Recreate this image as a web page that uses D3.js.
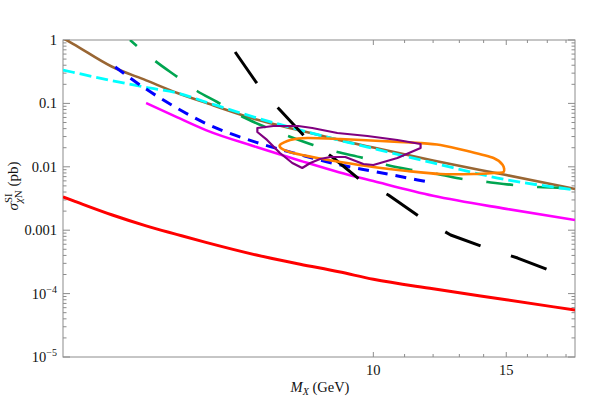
<!DOCTYPE html>
<html>
<head>
<meta charset="utf-8" />
<title></title>
<style>
  body { margin: 0; background: #fff; }
  text { font-family: "Liberation Serif", "DejaVu Serif", serif; fill: #111; }
</style>
</head>
<body>
<div id="chart"></div>
<script src="https://cdn.jsdelivr.net/npm/d3@7/dist/d3.min.js"></script>
<script>
// curves: [mass GeV, sigma pb]
var brownCurve = [[3.88,1.07],[4,0.871],[4.5,0.382],[5,0.231],[5.5,0.146],[6,0.102],[7,0.0557],[8,0.0374],[9,0.0266],[10,0.0201],[12,0.01257],[15,0.0074],[18.5,0.00447]];
var cyanCurve = [[3.88,0.336],[4,0.31],[4.5,0.229],[5,0.179],[5.5,0.146],[6,0.105],[7,0.0593],[8,0.038],[9,0.0264],[10,0.0194],[12,0.0115],[15,0.00626],[18.5,0.00433]];
var blueCurve = [[4.55,0.375],[5,0.168],[5.5,0.0837],[6,0.0482],[7,0.0243],[8,0.0155],[9,0.01083],[10,0.00849],[11.83,0.00576]];
var magentaCurve = [[5,0.1015],[5.5,0.0601],[6,0.0379],[7,0.0205],[8,0.01248],[9,0.00822],[10,0.00595],[12,0.00349],[15,0.00217],[18.5,0.00145]];
var redCurve = [[3.88,0.00334],[4,0.00292],[4.5,0.00175],[5,0.00117],[5.5,0.000853],[6,0.000643],[7,0.000406],[8,0.000291],[9,0.000221],[10,0.000168],[12,0.000119],[15,0.00008],[18.5,0.000055]];
var blackCurve = [[6.56,0.647],[6.99,0.2176],[7.48,0.0846],[8.12,0.0295],[8.82,0.01427],[9.61,0.00619],[10.47,0.00359],[11.58,0.001557],[12.66,0.000839],[14.12,0.000524],[15.53,0.000364],[17.34,0.000219]];
var greenCurve = [[4.76,1.0],[5.14,0.4664],[5.5,0.2609],[5.84,0.1569],[6.21,0.1052],[6.72,0.061],[7.19,0.0425],[7.71,0.0306],[8.32,0.0221],[8.96,0.0171],[9.7,0.01376],[10.43,0.01067],[11.27,0.00891],[12.16,0.00769],[13.13,0.00642],[14.17,0.00576],[15.34,0.00516],[16.51,0.0048],[17.87,0.00463],[18.53,0.00447]];
var purpleRegion = [[7.02,0.0409],[7.37,0.044],[7.95,0.044],[8.3,0.0409],[8.96,0.0341],[9.82,0.0306],[10.76,0.0265],[11.55,0.0229],[11.55,0.0198],[10.76,0.01377],[10.0,0.01067],[9.7,0.01107],[9.18,0.01428],[8.77,0.01428],[8.5,0.01328],[8.25,0.01148],[8.05,0.00958],[7.81,0.01148],[7.52,0.01651],[7.23,0.0265],[7.02,0.0354]];
var orangeRegion = [[7.52,0.0221],[7.76,0.0265],[8.18,0.0285],[9.04,0.0274],[10.22,0.0255],[11.55,0.0237],[12.27,0.0221],[13.33,0.01776],[14.43,0.01377],[14.84,0.01067],[14.88,0.00828],[14.43,0.00798],[13.57,0.00769],[12.27,0.00769],[11.09,0.00859],[10.0,0.00993],[9.04,0.01191],[8.43,0.01377],[7.83,0.01651],[7.57,0.0191]];

var xTicks = [10, 11, 12, 13, 14, 15, 16, 17, 18];
var xTickLabels = [10, 15];
var yDecades = [1, 0.1, 0.01, 0.001, 1e-4, 1e-5];
var yLabels = ["1", "0.1", "0.01", "0.001", "10|−4", "10|−5"];

var width = 606, height = 398;
var pLeft = 63, pRight = 575, pTop = 40, pBottom = 357;

var x = d3.scaleLog().domain([3.88, 18.5]).range([pLeft, pRight]);
var y = d3.scaleLog().domain([1e-5, 1]).range([pBottom, pTop]);

var svg = d3.select("#chart").append("svg")
    .attr("width", width).attr("height", height);

svg.append("clipPath").attr("id", "frame")
    .append("rect").attr("x", pLeft).attr("y", pTop)
    .attr("width", pRight - pLeft).attr("height", pBottom - pTop);

// minor ticks on y
var yMinor = [];
yDecades.slice(1).forEach(function (d) {
    for (var k = 2; k <= 9; k++) yMinor.push(d * k);
});

var axisColor = "#8c8c8c";
var ticks = svg.append("g").attr("stroke", axisColor).attr("stroke-width", 1);

yDecades.forEach(function (d) {
    ticks.append("line").attr("x1", pLeft).attr("x2", pLeft + 7).attr("y1", y(d)).attr("y2", y(d));
    ticks.append("line").attr("x1", pRight).attr("x2", pRight - 7).attr("y1", y(d)).attr("y2", y(d));
});
yMinor.forEach(function (d) {
    ticks.append("line").attr("x1", pLeft).attr("x2", pLeft + 3.5).attr("y1", y(d)).attr("y2", y(d));
    ticks.append("line").attr("x1", pRight).attr("x2", pRight - 3.5).attr("y1", y(d)).attr("y2", y(d));
});
xTicks.forEach(function (d) {
    var len = xTickLabels.indexOf(d) >= 0 ? 5 : 3;
    ticks.append("line").attr("x1", x(d)).attr("x2", x(d)).attr("y1", pBottom).attr("y2", pBottom - len);
    ticks.append("line").attr("x1", x(d)).attr("x2", x(d)).attr("y1", pTop).attr("y2", pTop + len);
});

svg.append("rect")
    .attr("x", pLeft).attr("y", pTop)
    .attr("width", pRight - pLeft).attr("height", pBottom - pTop)
    .attr("fill", "none").attr("stroke", axisColor).attr("stroke-width", 1);

// tick labels
yDecades.forEach(function (d, i) {
    var parts = yLabels[i].split("|");
    var t = svg.append("text")
        .attr("x", 57).attr("y", y(d)).attr("dy", "0.35em")
        .attr("text-anchor", "end").attr("font-size", 14.5);
    t.append("tspan").text(parts[0]);
    if (parts[1]) {
        t.append("tspan").attr("font-size", 10).attr("dy", -6).text(parts[1]);
    }
});
xTickLabels.forEach(function (d) {
    svg.append("text").attr("x", x(d)).attr("y", 375)
        .attr("text-anchor", "middle").attr("font-size", 14.5).text(d);
});

// axis titles
var xl = svg.append("text").attr("x", 320).attr("y", 392)
    .attr("text-anchor", "middle").attr("font-size", 14.5);
xl.append("tspan").attr("font-style", "italic").text("M");
xl.append("tspan").attr("font-style", "italic").attr("font-size", 10).attr("dy", 3).text("X");
xl.append("tspan").attr("dy", -3).text(" (GeV)");

var yl = svg.append("text").attr("transform", "translate(18,186) rotate(-90)")
    .attr("text-anchor", "middle").attr("font-size", 15);
yl.append("tspan").attr("font-style", "italic").text("σ");
var sup = yl.append("tspan").attr("font-size", 11).attr("dy", -6).text("SI");
var supW = sup.node().getComputedTextLength();
yl.append("tspan").attr("font-size", 11).attr("font-style", "italic").attr("dx", -supW).attr("dy", 10).text("χ");
yl.append("tspan").attr("font-size", 11).text("N");
yl.append("tspan").attr("dy", -4).text(" (pb)");

// curves
var smoothLine = d3.line().x(function (d) { return x(d[0]); }).y(function (d) { return y(d[1]); })
    .curve(d3.curveMonotoneX);
var jaggedLine = d3.line().x(function (d) { return x(d[0]); }).y(function (d) { return y(d[1]); });
var ringLine = d3.line().x(function (d) { return x(d[0]); }).y(function (d) { return y(d[1]); })
    .curve(d3.curveCardinalClosed.tension(0.2));
var polyLine = d3.line().x(function (d) { return x(d[0]); }).y(function (d) { return y(d[1]); })
    .curve(d3.curveLinearClosed);

var plot = svg.append("g").attr("clip-path", "url(#frame)")
    .attr("fill", "none").attr("stroke-linejoin", "round");

plot.append("path").datum(redCurve).attr("d", smoothLine)
    .attr("stroke", "#ff0000").attr("stroke-width", 3);
plot.append("path").datum(magentaCurve).attr("d", smoothLine)
    .attr("stroke", "#ff00ff").attr("stroke-width", 2.6);
plot.append("path").datum(brownCurve).attr("d", smoothLine)
    .attr("stroke", "#996633").attr("stroke-width", 2.6);
plot.append("path").datum(greenCurve).attr("d", smoothLine)
    .attr("stroke", "#00a550").attr("stroke-width", 2.6)
    .attr("stroke-dasharray", "27,24").attr("stroke-dashoffset", 18);
plot.append("path").datum(cyanCurve).attr("d", smoothLine)
    .attr("stroke", "#00ffff").attr("stroke-width", 2.8)
    .attr("stroke-dasharray", "12,5");
plot.append("path").datum(blueCurve).attr("d", smoothLine)
    .attr("stroke", "#0000ff").attr("stroke-width", 3)
    .attr("stroke-dasharray", "11,8");
plot.append("path").datum(blackCurve).attr("d", jaggedLine)
    .attr("stroke", "#000").attr("stroke-width", 3)
    .attr("stroke-dasharray", "38,32");
plot.append("path").datum(orangeRegion).attr("d", ringLine)
    .attr("stroke", "#ff8000").attr("stroke-width", 2.6);
plot.append("path").datum(purpleRegion).attr("d", polyLine)
    .attr("stroke", "#800080").attr("stroke-width", 2.2);
</script>
</body>
</html>
